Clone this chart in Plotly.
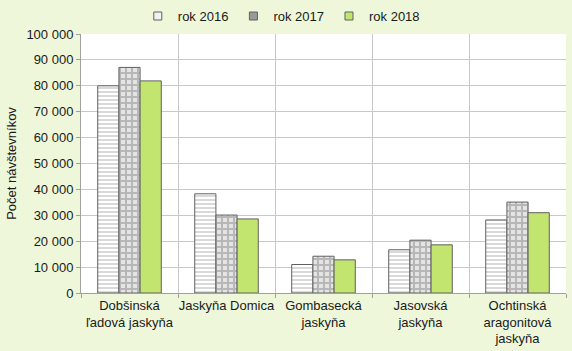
import plotly.graph_objects as go

categories = ["Dobšinská<br>ľadová jaskyňa", "Jaskyňa Domica", "Gombasecká<br>jaskyňa",
              "Jasovská<br>jaskyňa", "Ochtinská<br>aragonitová<br>jaskyňa"]
series_names = ["rok 2016", "rok 2017", "rok 2018"]
v2016 = [80000, 38300, 11000, 16700, 28200]
v2017 = [87100, 30100, 14200, 20400, 35100]
v2018 = [81900, 28600, 12800, 18600, 31000]
y_ticks = [0, 10000, 20000, 30000, 40000, 50000, 60000, 70000, 80000, 90000, 100000]

font = "Liberation Sans, Arial, sans-serif"
edge = "#606060"
fig = go.Figure()
fig.add_trace(go.Bar(
    x=categories, y=v2016, name=series_names[0], showlegend=False,
    marker=dict(color="white", line=dict(color=edge, width=1),
                pattern=dict(shape="-", fgcolor="#808080", bgcolor="white", size=4, solidity=0.3)),
))
fig.add_trace(go.Bar(
    x=categories, y=v2017, name=series_names[1], showlegend=False,
    marker=dict(color="#e0e0e0", line=dict(color=edge, width=1),
                pattern=dict(shape="+", fgcolor="#8a8a8a", bgcolor="#e4e4e4", size=6, solidity=0.55)),
))
fig.add_trace(go.Bar(
    x=categories, y=v2018, name=series_names[2], showlegend=False,
    marker=dict(color="#c2e570", line=dict(color=edge, width=1)),
))

# legend-only entries with small square swatches
legend_fill = ["#f2f2f2", "#9a9a9a", "#c2e570"]
for name, col in zip(series_names, legend_fill):
    fig.add_trace(go.Scatter(
        x=[None], y=[None], mode="markers", name=name,
        marker=dict(symbol="square", size=8, color=col, line=dict(color=edge, width=1)),
    ))

fig.update_layout(
    width=572, height=351,
    margin=dict(l=81, r=6, t=34, b=58, autoexpand=False),
    paper_bgcolor="#eef7d9",
    plot_bgcolor="white",
    barmode="group",
    bargap=0.345,
    bargroupgap=0,
    separators=", ",
    font=dict(family=font, size=13, color="#1a1a1a"),
    legend=dict(orientation="h", x=0.413, xanchor="center", y=0.997, yanchor="top",
                yref="container", font=dict(size=13), itemwidth=30, traceorder="normal",
                bgcolor="rgba(0,0,0,0)"),
    yaxis=dict(range=[0, 100000], tickvals=y_ticks, tickformat=",d", automargin=False,
               showgrid=True, gridcolor="#c8c8c8", gridwidth=1,
               ticks="outside", ticklen=4, tickcolor="#a0a0a0",
               showline=True, linecolor="#a0a0a0",
               title=dict(text="Počet návštevníkov", font=dict(size=13), standoff=6),
               zeroline=False),
    xaxis=dict(showgrid=True, gridcolor="#c8c8c8", tickson="boundaries", automargin=False,
               tickangle=0,
               ticks="outside", ticklen=4, tickcolor="#a0a0a0",
               showline=True, linecolor="#a0a0a0"),
)
fig.write_html("out.html")
